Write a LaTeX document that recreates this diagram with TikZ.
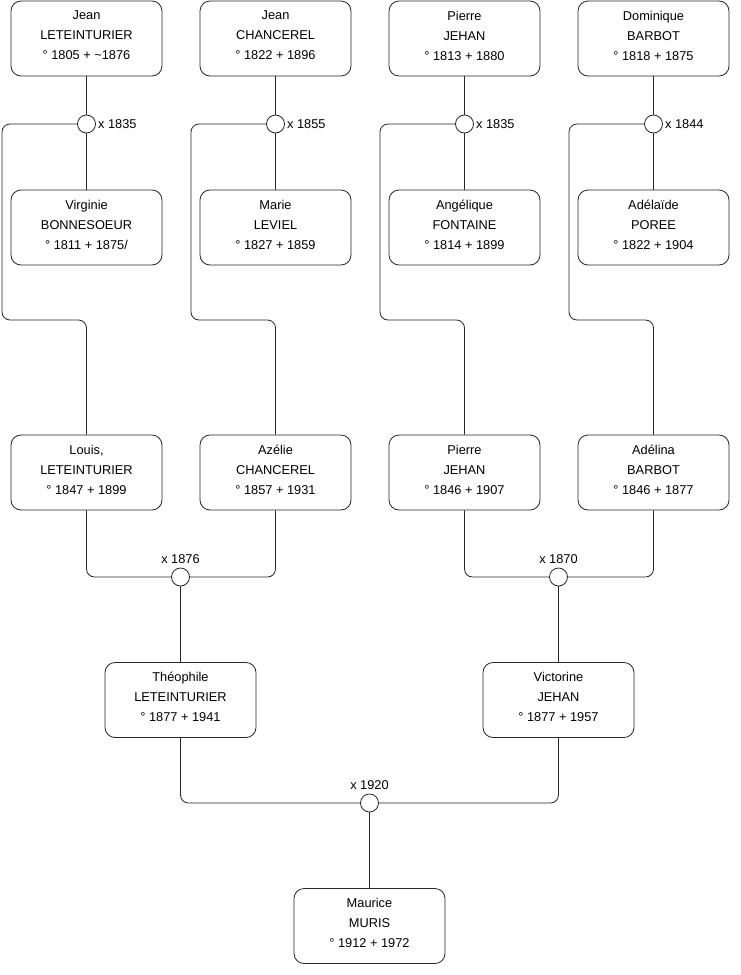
\documentclass[tikz,border=0pt]{standalone}
\usepackage{fontspec}
\setmainfont{Liberation Sans}
\usetikzlibrary{positioning}

\begin{document}
\begin{tikzpicture}[x=1pt, y=-1pt,
  person/.style={draw=black!85, rounded corners=10pt, fill=white, minimum width=151pt, minimum height=75pt, align=center, line width=0.8pt, font=\fontsize{12.8}{20}\selectfont, execute at end node={\rule[-6pt]{0pt}{0pt}}},
  wedding/.style={draw=black!85, circle, fill=white, minimum size=18pt, inner sep=0pt, line width=0.8pt, label distance=3.5pt},
  year/.style={font=\fontsize{12.8}{14}\selectfont, inner sep=2pt},
  above year/.style={year, label distance=2pt},
  link/.style={draw=black!85, rounded corners=8pt, line width=0.8pt}
]
\useasboundingbox (0,0) rectangle (740,975);

% grandparents' parents
\node[person] (jeanL) at (86.5,38.5) {Jean\\LETEINTURIER\\° 1805 + \textasciitilde1876};
\node[person] (jeanC) at (275.5,38.5) {Jean\\CHANCEREL\\° 1822 + 1896};
\node[person] (pierreJ) at (464.5,38.5) {Pierre\\JEHAN\\° 1813 + 1880};
\node[person] (dominique) at (653.5,38.5) {Dominique\\BARBOT\\° 1818 + 1875};

\node[wedding, label={[year]right:x 1835}] (wedA) at (86.5,124) {};
\node[wedding, label={[year]right:x 1855}] (wedB) at (275.5,124) {};
\node[wedding, label={[year]right:x 1835}] (wedC) at (464.5,124) {};
\node[wedding, label={[year]right:x 1844}] (wedD) at (653.5,124) {};

\node[person] (virginie) at (86.5,227.5) {Virginie\\BONNESOEUR\\° 1811 + 1875/};
\node[person] (marie) at (275.5,227.5) {Marie\\LEVIEL\\° 1827 + 1859};
\node[person] (angelique) at (464.5,227.5) {Angélique\\FONTAINE\\° 1814 + 1899};
\node[person] (adelaide) at (653.5,227.5) {Adélaïde\\POREE\\° 1822 + 1904};

% grandparents
\node[person] (louis) at (86.5,472.5) {Louis,\\LETEINTURIER\\° 1847 + 1899};
\node[person] (azelie) at (275.5,472.5) {Azélie\\CHANCEREL\\° 1857 + 1931};
\node[person] (pierreJn) at (464.5,472.5) {Pierre\\JEHAN\\° 1846 + 1907};
\node[person] (adelina) at (653.5,472.5) {Adélina\\BARBOT\\° 1846 + 1877};

\node[wedding, label={[above year]above:x 1876}] (wedE) at (180.5,577) {};
\node[wedding, label={[above year]above:x 1870}] (wedF) at (558.5,577) {};

% parents
\node[person] (theophile) at (180.5,700) {Théophile\\LETEINTURIER\\° 1877 + 1941};
\node[person] (victorine) at (558.5,700) {Victorine\\JEHAN\\° 1877 + 1957};

\node[wedding, label={[above year]above:x 1920}] (wedG) at (369.5,803) {};

\node[person] (maurice) at (369.5,926) {Maurice\\MURIS\\° 1912 + 1972};

% couples
\draw[link] (jeanL) -- (wedA) -- (virginie);
\draw[link] (jeanC) -- (wedB) -- (marie);
\draw[link] (pierreJ) -- (wedC) -- (angelique);
\draw[link] (dominique) -- (wedD) -- (adelaide);

% children
\draw[link] (wedA.west) -| (2,320) -| (louis.north);
\draw[link] (wedB.west) -| (191,320) -| (azelie.north);
\draw[link] (wedC.west) -| (380,320) -| (pierreJn.north);
\draw[link] (wedD.west) -| (569,320) -| (adelina.north);

\draw[link] (louis.south) |- (wedE.west);
\draw[link] (azelie.south) |- (wedE.east);
\draw[link] (pierreJn.south) |- (wedF.west);
\draw[link] (adelina.south) |- (wedF.east);
\draw[link] (wedE) -- (theophile);
\draw[link] (wedF) -- (victorine);

\draw[link] (theophile.south) |- (wedG.west);
\draw[link] (victorine.south) |- (wedG.east);
\draw[link] (wedG) -- (maurice);
\end{tikzpicture}
\end{document}
